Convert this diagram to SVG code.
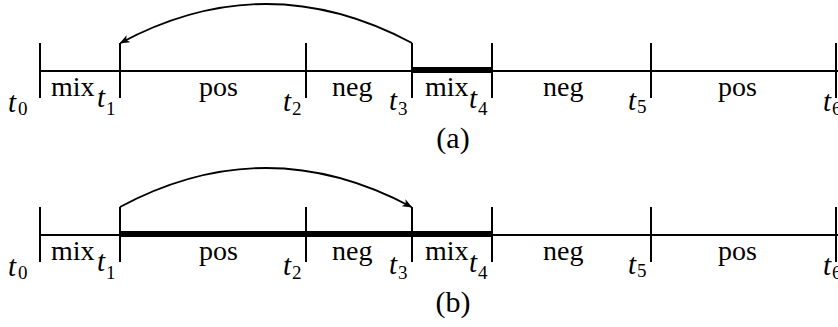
<svg xmlns="http://www.w3.org/2000/svg" width="838" height="327" viewBox="0 0 838 327">
<style>
.ax{stroke:#000;stroke-width:2;fill:none}
.tk{stroke:#000;stroke-width:2;fill:none}
.bold{stroke:#000;stroke-width:6;fill:none}
.arc{stroke:#000;stroke-width:1.8;fill:none}
.lb{font-family:"Liberation Serif",serif;font-size:28px;fill:#000}
.cap{font-family:"Liberation Serif",serif;font-size:30px;fill:#000}
.t{font-family:"Liberation Serif",serif;font-size:29px;font-style:italic;fill:#000}
.s{font-family:"Liberation Serif",serif;font-size:19px;fill:#000}
</style>
<defs>
<marker id="ah" viewBox="0 0 10 8" refX="9" refY="4" markerWidth="10" markerHeight="8" markerUnits="userSpaceOnUse" orient="auto">
<path d="M0,0 L10,4 L0,8 L2.5,4 Z" fill="#000"/>
</marker>
<g id="row">
<line class="ax" x1="40" y1="71" x2="838" y2="71"/>
<line class="tk" x1="40" y1="43" x2="40" y2="98"/>
<line class="tk" x1="120" y1="43" x2="120" y2="98"/>
<line class="tk" x1="306" y1="43" x2="306" y2="98"/>
<line class="tk" x1="412" y1="43" x2="412" y2="98"/>
<line class="tk" x1="492" y1="43" x2="492" y2="98"/>
<line class="tk" x1="651" y1="43" x2="651" y2="98"/>
<line class="tk" x1="836" y1="43" x2="836" y2="98"/>
<text class="lb" x="51" y="96">mix</text>
<text class="lb" x="199" y="96">pos</text>
<text class="lb" x="332" y="96">neg</text>
<text class="lb" x="425" y="96">mix</text>
<text class="lb" x="543" y="96">neg</text>
<text class="lb" x="718" y="96">pos</text>
<text class="t" x="8" y="112">t</text><text class="s" x="18" y="115">0</text>
<text class="t" x="97" y="107">t</text><text class="s" x="106" y="115">1</text>
<text class="t" x="283" y="111">t</text><text class="s" x="292" y="115">2</text>
<text class="t" x="389" y="110">t</text><text class="s" x="398" y="115">3</text>
<text class="t" x="469" y="108">t</text><text class="s" x="478" y="115">4</text>
<text class="t" x="628" y="110">t</text><text class="s" x="637" y="113">5</text>
<text class="t" x="823" y="111">t</text><text class="s" x="832" y="115">6</text>
</g>
</defs>
<g id="timeline-a">
<use href="#row"/>
<line class="bold" x1="412" y1="70" x2="492" y2="70"/>
<text class="cap" x="453" y="148" text-anchor="middle">(a)</text>
</g>
<g id="timeline-b">
<use href="#row" transform="translate(0,164)"/>
<line class="bold" x1="120" y1="234" x2="492" y2="234"/>
<text class="cap" x="453" y="312" text-anchor="middle">(b)</text>
</g>
<g id="connectors">
<path class="arc" d="M412,43 Q266,-35 120.5,43" marker-end="url(#ah)"/>
<path class="arc" d="M120,207 Q266,129 411.5,207" marker-end="url(#ah)"/>
</g>
</svg>
